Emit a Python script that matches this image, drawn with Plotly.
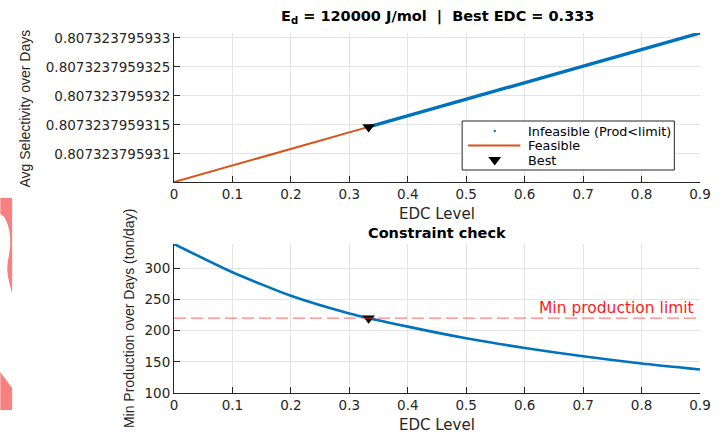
import plotly.graph_objects as go

# ---------------- data ----------------
edc_feasible = [0.0, 0.1, 0.2, 0.3, 0.333]
sel_feasible = [0.807323795930517, 0.807323795930802, 0.807323795931088,
                0.807323795931373, 0.807323795931467]
edc_infeasible = [0.333, 0.4, 0.5, 0.6, 0.7, 0.8, 0.9]
sel_infeasible = [0.807323795931467, 0.807323795931659, 0.807323795931944,
                  0.807323795932230, 0.807323795932515, 0.807323795932800,
                  0.807323795933086]
edc_levels = [0.0, 0.1, 0.2, 0.3, 0.4, 0.5, 0.6, 0.7, 0.8, 0.9]
min_prod = [338.9, 293.6, 255.8, 227.6, 206.4, 187.7, 172.2, 159.0, 147.3, 137.7]
best_edc = 0.333
best_sel = 0.807323795931467
best_prod = 220.0
prod_limit = 220.0

sel_ticks = [0.807323795931, 0.8073237959315, 0.807323795932, 0.8073237959325, 0.807323795933]
sel_tick_labels = ["0.807323795931", "0.8073237959315", "0.807323795932",
                   "0.8073237959325", "0.807323795933"]
edc_ticks = [0.0, 0.1, 0.2, 0.3, 0.4, 0.5, 0.6, 0.7, 0.8, 0.9]
edc_tick_labels = ["0", "0.1", "0.2", "0.3", "0.4", "0.5", "0.6", "0.7", "0.8", "0.9"]
prod_ticks = [100, 150, 200, 250, 300]
prod_tick_labels = ["100", "150", "200", "250", "300"]
legend_labels = ["Infeasible (Prod<limit)", "Feasible", "Best"]

# ---------------- layout helpers ----------------
W, H = 723, 434
ML, MR, MT, MB = 174, 16, 33, 41
PW, PH = W - ML - MR, H - MT - MB


def px(xp):
    return (xp - ML) / PW


def py(yp):
    return (H - MB - yp) / PH


BLUE = "#0072BD"
ORANGE = "#D95319"
AX = "#262626"
GRID = "#E4E4E4"
HFONT = "DejaVu Sans"
VFONT = "Liberation Sans, Arial"

fig = go.Figure()

fig.add_trace(go.Scatter(x=edc_infeasible, y=sel_infeasible, mode="lines",
                         name=legend_labels[0], showlegend=False,
                         line=dict(color=BLUE, width=3.4), xaxis="x", yaxis="y"))
fig.add_trace(go.Scatter(x=edc_feasible, y=sel_feasible, mode="lines", name=legend_labels[1],
                         showlegend=False,
                         line=dict(color=ORANGE, width=2), xaxis="x", yaxis="y"))
fig.add_trace(go.Scatter(x=[best_edc], y=[best_sel], mode="markers", name=legend_labels[2],
                         showlegend=False,
                         marker=dict(symbol="triangle-down", color="black", size=11),
                         xaxis="x", yaxis="y"))

# bottom
fig.add_trace(go.Scatter(x=edc_levels, y=min_prod, mode="lines", showlegend=False,
                         line=dict(color=BLUE, width=2.6, shape="spline", smoothing=0.6),
                         xaxis="x2", yaxis="y2"))
fig.add_trace(go.Scatter(x=[best_edc], y=[best_prod], mode="markers", showlegend=False,
                         marker=dict(symbol="triangle-down", color="black", size=11),
                         xaxis="x2", yaxis="y2"))

axis_common = dict(showline=True, linecolor=AX, linewidth=1, mirror=False,
                   ticks="inside", ticklen=6, tickwidth=1, tickcolor=AX,
                   showgrid=True, gridcolor=GRID, gridwidth=1, zeroline=False,
                   tickfont=dict(family=HFONT, size=13.5, color=AX))

fig.update_layout(
    width=W, height=H,
    margin=dict(l=ML, r=MR, t=MT, b=MB),
    paper_bgcolor="white", plot_bgcolor="white",
    showlegend=False,
    xaxis=dict(domain=[0, 1], anchor="y", range=[0, 0.9], tickmode="array",
               tickvals=edc_ticks, ticktext=edc_tick_labels, **axis_common),
    yaxis=dict(domain=[py(182), 1], anchor="x",
               range=[sel_feasible[0], sel_infeasible[-1]], tickmode="array",
               tickvals=sel_ticks, ticktext=sel_tick_labels, **axis_common),
    xaxis2=dict(domain=[0, 1], anchor="y2", range=[0, 0.9], tickmode="array",
                tickvals=edc_ticks, ticktext=edc_tick_labels, **axis_common),
    yaxis2=dict(domain=[0, py(244)], anchor="x2", range=[100, min_prod[0]],
                tickmode="array", tickvals=prod_ticks, ticktext=prod_tick_labels,
                **axis_common),
)

# limit line
fig.add_shape(type="line", xref="x2", yref="y2", x0=edc_levels[0], x1=edc_levels[-1],
              y0=prod_limit, y1=prod_limit,
              line=dict(color="rgba(255,60,60,0.65)", width=1.2, dash="12px,5px"))


def path(points):
    return "M " + " L ".join(f"{px(a):.5f},{py(b):.5f}" for a, b in points) + " Z"


# pink artifacts at the left edge
pink1 = [(-2, 198), (10, 198), (10, 292), (9.5, 292), (8, 286), (6, 278), (5, 270),
         (5.5, 262), (7, 254), (8, 246), (8, 238), (7, 230), (5, 223), (2, 217), (-2, 214)]
pink2 = [(-2, 372), (10, 388), (10, 410), (-2, 410)]
for pts in (pink1, pink2):
    fig.add_shape(type="path", xref="paper", yref="paper", path=path(pts),
                  fillcolor="#F88080", line=dict(width=0), layer="above")

# ---------------- legend box (drawn) ----------------
LX0, LX1, LY0, LY1 = 466, 681, 121, 170
rows = [131, 145.5, 160.5]
fig.add_shape(type="rect", xref="paper", yref="paper", x0=px(LX0), x1=px(LX1),
              y0=py(LY1), y1=py(LY0), fillcolor="white",
              line=dict(color=AX, width=1), layer="above")
fig.add_shape(type="circle", xref="paper", yref="paper", x0=px(497.8), x1=px(500.2),
              y0=py(rows[0] + 1.2), y1=py(rows[0] - 1.2), fillcolor=BLUE,
              line=dict(width=0), layer="above")
fig.add_shape(type="line", xref="paper", yref="paper", x0=px(472), x1=px(525),
              y0=py(rows[1]), y1=py(rows[1]), line=dict(color=ORANGE, width=2),
              layer="above")
fig.add_shape(type="path", xref="paper", yref="paper",
              path=path([(492.5, rows[2] - 3.5), (505.5, rows[2] - 3.5), (499, rows[2] + 5)]),
              fillcolor="black", line=dict(width=0), layer="above")

ann = []
for lab, ry in zip(legend_labels, rows):
    ann.append(dict(text=lab.replace("<", "&lt;"), x=px(531), y=py(ry), xref="paper",
                    yref="paper", showarrow=False, xanchor="left", yanchor="middle",
                    font=dict(family=HFONT, size=12.8, color="black")))
ann.append(dict(text="<b>E<sub>d</sub> = 120000 J/mol  |  Best EDC = 0.333</b>",
                x=px(440.5), y=py(17), xref="paper", yref="paper", showarrow=False,
                xanchor="center", yanchor="middle",
                font=dict(family=HFONT, size=14.5, color="black")))
ann.append(dict(text="Avg Selectivity over Days", x=px(23), y=py(108.5),
                xref="paper", yref="paper", showarrow=False, textangle=-90,
                xanchor="center", yanchor="middle",
                font=dict(family=VFONT, size=14, color=AX)))
ann.append(dict(text="EDC Level", x=px(440.5), y=py(214), xref="paper", yref="paper",
                showarrow=False, xanchor="center", yanchor="middle",
                font=dict(family=HFONT, size=15, color=AX)))
ann.append(dict(text="<b>Constraint check</b>", x=px(440.5), y=py(233),
                xref="paper", yref="paper", showarrow=False, xanchor="center",
                yanchor="middle", font=dict(family=HFONT, size=14.5, color="black")))
ann.append(dict(text="Min Production over Days (ton/day)", x=px(128), y=py(318.5),
                xref="paper", yref="paper", showarrow=False, textangle=-90,
                xanchor="center", yanchor="middle",
                font=dict(family=VFONT, size=14, color=AX)))
ann.append(dict(text="EDC Level", x=px(440.5), y=py(425), xref="paper", yref="paper",
                showarrow=False, xanchor="center", yanchor="middle",
                font=dict(family=HFONT, size=15, color=AX)))
ann.append(dict(text="Min production limit", x=px(703), y=py(308), xref="paper",
                yref="paper", showarrow=False, xanchor="right", yanchor="middle",
                font=dict(family=HFONT, size=15.5, color="#FF1A1A")))
fig.update_layout(annotations=ann)

fig.write_html("out.html", config={"displayModeBar": False},
               post_script="document.body.style.margin='0';")
